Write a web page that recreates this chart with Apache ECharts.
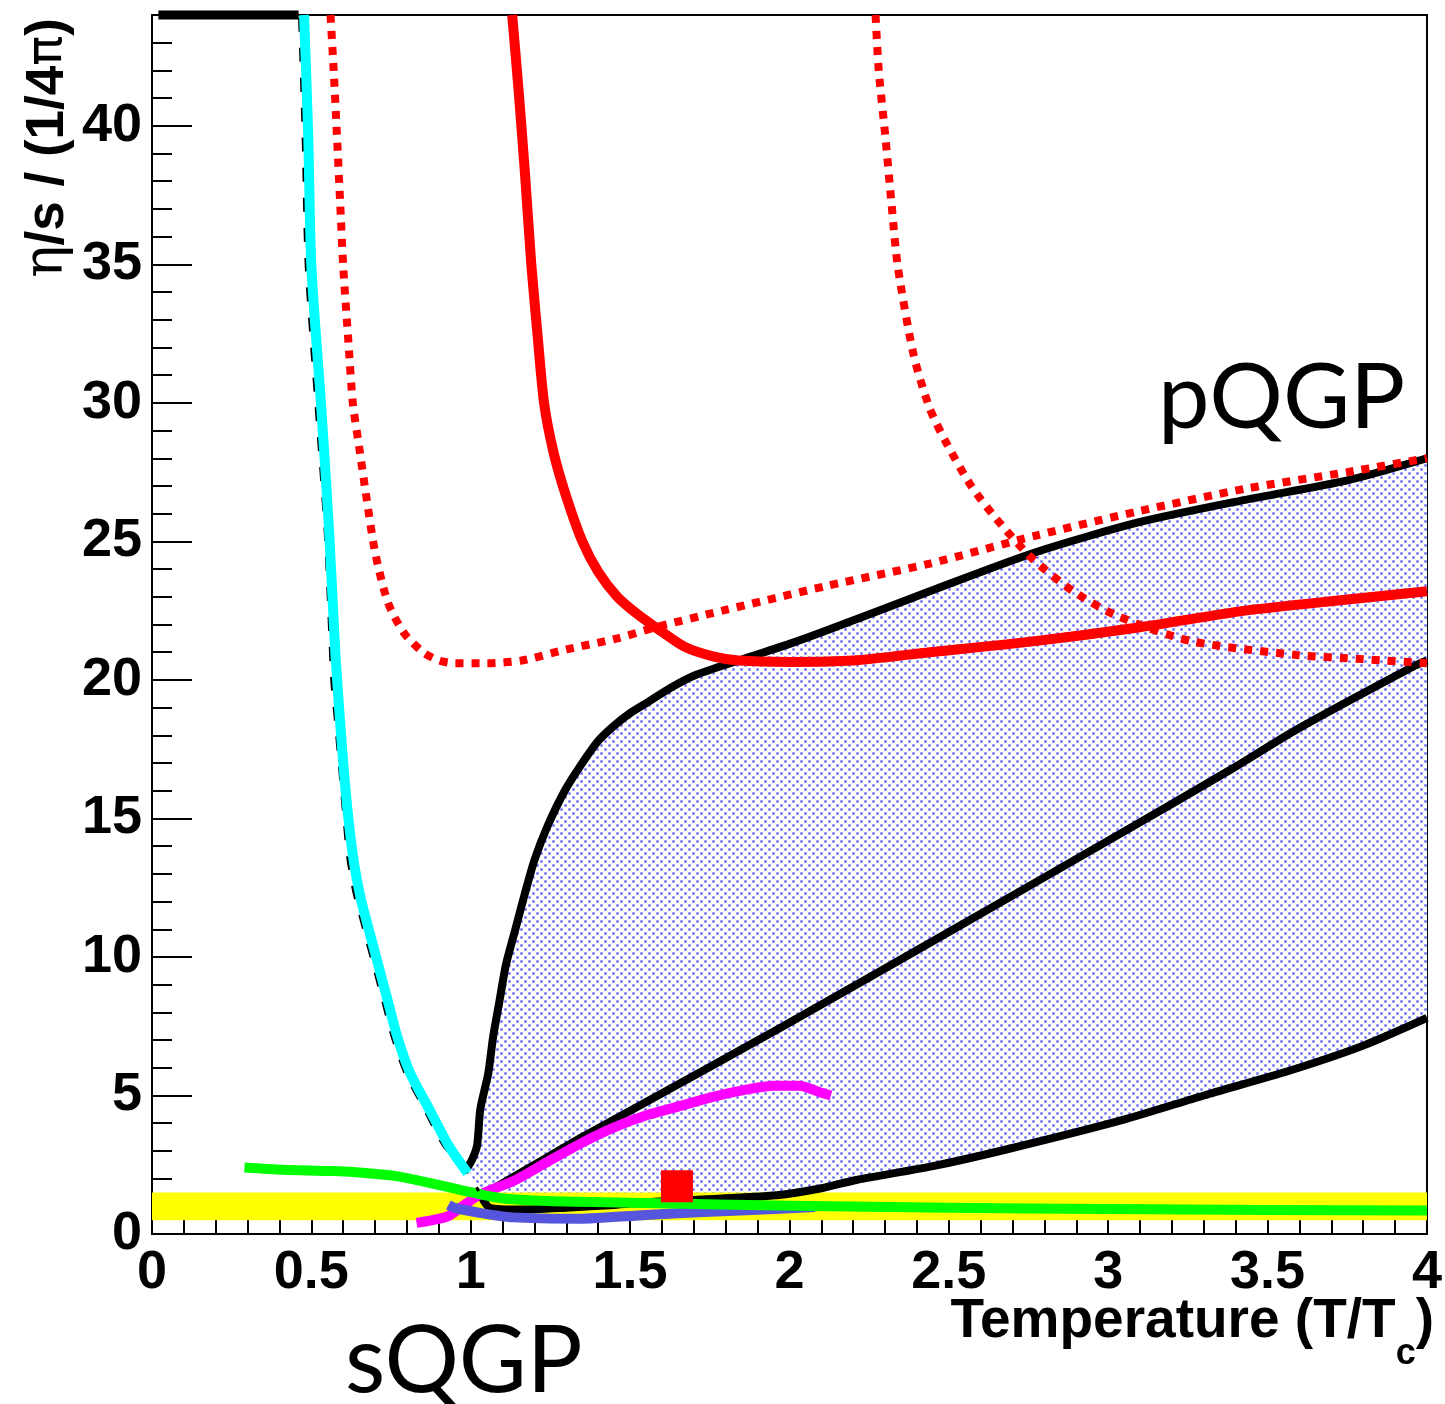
<!DOCTYPE html>
<html>
<head>
<meta charset="utf-8">
<script src="https://cdn.jsdelivr.net/npm/echarts@6/dist/echarts.min.js"></script>
<style>
html,body{margin:0;padding:0;background:#fff;}
#chart{width:1445px;height:1404px;}
</style>
</head>
<body>
<div id="chart"></div>
<script>
// ---------------- data ----------------
const xTicks = [0, 0.5, 1, 1.5, 2, 2.5, 3, 3.5, 4];
const yTicks = [0, 5, 10, 15, 20, 25, 30, 35, 40];

// hadron gas curve (black, runs off the top, then falls beside the cyan curve)
const hadronX = [0.02, 0.46, 0.463, 0.474, 0.484, 0.514, 0.544, 0.564, 0.574, 0.594, 0.604, 0.614, 0.634, 0.664, 0.694, 0.724, 0.754, 0.794, 0.854, 0.914, 0.99, 1.025];
const hadronY = [44, 44, 43.9, 39.7, 34.9, 30.0, 25.2, 20.0, 18.7, 16.1, 14.8, 13.6, 12.3, 11.0, 9.7, 8.4, 7.1, 5.8, 4.5, 3.2, 2.2, 1.55];

// cyan curve
const cyanX = [0.477, 0.49, 0.50, 0.53, 0.555, 0.575, 0.59, 0.605, 0.62, 0.635, 0.655, 0.68, 0.71, 0.74, 0.77, 0.81, 0.87, 0.93, 0.99];
const cyanY = [44, 39.7, 34.9, 30.0, 25.5, 21.0, 18.5, 16.3, 14.6, 13.3, 12.1, 11.0, 9.7, 8.4, 7.1, 5.8, 4.5, 3.2, 2.2];

// upper black boundary of the shaded band
const upperX = [0.99, 1.005, 1.02, 1.03, 1.055, 1.07, 1.09, 1.11, 1.14, 1.17, 1.20, 1.24, 1.295, 1.35, 1.40, 1.45, 1.50, 1.556, 1.625, 1.70, 1.84, 2.0, 2.12, 2.44, 2.77, 3.10, 3.43, 3.75, 4.0];
const upperY = [2.4, 2.7, 3.2, 4.5, 5.8, 7.1, 8.4, 9.7, 11.0, 12.3, 13.5, 14.7, 16.0, 17.0, 17.8, 18.35, 18.8, 19.2, 19.7, 20.15, 20.7, 21.3, 21.8, 23.2, 24.6, 25.7, 26.5, 27.2, 28.0];

// lower black boundary of the shaded band
const lowerX = [1.025, 1.06, 1.15, 1.3, 1.45, 1.56, 1.70, 1.96, 2.1, 2.21, 2.45, 2.68, 3.04, 3.3, 3.57, 3.8, 4.0];
const lowerY = [1.55, 0.95, 0.88, 0.95, 1.05, 1.15, 1.23, 1.4, 1.65, 1.95, 2.45, 3.05, 4.1, 5.0, 5.9, 6.8, 7.8];

// middle black line
const middleX = [1.05, 1.2, 1.35, 1.556, 1.98, 2.5, 3.0, 3.39, 3.59, 3.96, 4.0];
const middleY = [1.5, 2.5, 3.5, 4.8, 7.5, 10.9, 14.2, 16.8, 18.2, 20.5, 20.7];

// red solid curve
const redSolidX = [1.13, 1.15, 1.17, 1.19, 1.21, 1.23, 1.26, 1.30, 1.35, 1.40, 1.46, 1.52, 1.58, 1.67, 1.76, 1.84, 2.0, 2.2, 2.44, 2.77, 3.10, 3.43, 3.75, 4.0];
const redSolidY = [44, 41.3, 38.3, 35.0, 32.4, 30.0, 28.2, 26.6, 25.0, 23.9, 23.0, 22.4, 21.9, 21.2, 20.85, 20.7, 20.65, 20.7, 21.0, 21.4, 21.9, 22.5, 22.9, 23.2];

// red dotted curve (left)
const redDotAX = [0.56, 0.57, 0.58, 0.59, 0.60, 0.615, 0.63, 0.65, 0.67, 0.70, 0.74, 0.79, 0.85, 0.90, 0.95, 1.05, 1.16, 1.3, 1.46, 1.58, 1.79, 2.12, 2.44, 2.77, 3.10, 3.43, 3.75, 4.0];
const redDotAY = [44, 42, 39.7, 37.3, 34.9, 32.4, 30.0, 28.4, 26.8, 24.6, 22.8, 21.7, 21.0, 20.7, 20.6, 20.6, 20.7, 21.1, 21.5, 21.9, 22.5, 23.4, 24.2, 25.2, 26.1, 26.9, 27.5, 28.0];

// red dotted curve (right)
const redDotBX = [2.27, 2.28, 2.30, 2.32, 2.34, 2.39, 2.44, 2.49, 2.57, 2.65, 2.76, 2.89, 3.03, 3.26, 3.59, 3.80, 4.0];
const redDotBY = [44, 42, 39.7, 37.2, 34.9, 31.7, 29.8, 28.6, 27.0, 25.8, 24.4, 23.2, 22.3, 21.4, 20.9, 20.75, 20.6];

// magenta curve
const magentaX = [0.83, 0.88, 0.93, 0.98, 1.03, 1.14, 1.24, 1.35, 1.45, 1.556, 1.65, 1.76, 1.86, 1.95, 2.03, 2.1, 2.13];
const magentaY = [0.4, 0.5, 0.65, 1.05, 1.43, 1.95, 2.6, 3.3, 3.85, 4.3, 4.6, 4.95, 5.2, 5.35, 5.35, 5.1, 5.0];

// slate-blue curve
const blueX = [0.93, 0.95, 1.03, 1.13, 1.34, 1.55, 1.75, 2.08];
const blueY = [1.05, 0.94, 0.76, 0.6, 0.55, 0.69, 0.8, 0.97];

// green curve
const greenX = [0.29, 0.41, 0.57, 0.67, 0.77, 0.88, 0.98, 1.09, 1.24, 1.556, 2.0, 2.5, 3.0, 3.5, 4.0];
const greenY = [2.4, 2.32, 2.27, 2.2, 2.08, 1.82, 1.56, 1.3, 1.19, 1.12, 1.02, 0.95, 0.9, 0.87, 0.85];

// yellow band
const bandX = [0, 4];
const bandLow = 0.5;
const bandHigh = 1.5;

// red square point
const pointX = [1.647];
const pointY = [1.72];

// ---------------- helpers ----------------
function zip(xs, ys) { return xs.map((x, i) => [x, ys[i]]); }

const pat = document.createElement('canvas');
pat.width = 8; pat.height = 8;
(function () {
  const c = pat.getContext('2d');
  c.fillStyle = '#ffffff';
  c.fillRect(0, 0, 8, 8);
  c.fillStyle = '#a8a8ff';
  c.fillRect(0, 0, 3, 3);
  c.fillRect(4, 4, 3, 3);
  c.fillStyle = '#3c3cff';
  c.fillRect(1, 1, 1, 1);
  c.fillRect(5, 5, 1, 1);
})();

const FONT = "'Liberation Sans', Arial, Helvetica, sans-serif";
const axisLabelStyle = { color: '#000', fontFamily: FONT, fontWeight: 'bold', fontSize: 54 };

function lineSeries(name, xs, ys, color, width, z, extra) {
  return Object.assign({
    name: name, type: 'line', data: zip(xs, ys), showSymbol: false, symbol: 'none',
    smooth: 0.25, silent: true, z: z,
    lineStyle: { color: color, width: width, cap: 'butt', join: 'round' }
  }, extra || {});
}

const chart = echarts.init(document.getElementById('chart'), null, { renderer: 'canvas' });

const option = {
  backgroundColor: '#fff',
  animation: false,
  grid: { left: 152, right: 13, top: 15, bottom: 170, show: true, borderColor: '#000', borderWidth: 2, backgroundColor: 'transparent' },
  xAxis: [
    { type: 'value', min: xTicks[0], max: xTicks[xTicks.length - 1], interval: 0.5, position: 'bottom',
      axisLine: { onZero: false, lineStyle: { color: '#000', width: 2 } },
      axisTick: { inside: true, length: 16, lineStyle: { color: '#000', width: 2 } },
      axisLabel: Object.assign({ margin: 12, showMinLabel: true, showMaxLabel: true }, axisLabelStyle),
      splitLine: { show: false } },
    { type: 'value', min: 0, max: 4, interval: 0.1, position: 'bottom',
      axisLine: { show: false }, axisTick: { inside: true, length: 16, lineStyle: { color: '#000', width: 2 } },
      axisLabel: { show: false }, splitLine: { show: false } }
  ],
  yAxis: [
    { type: 'value', min: yTicks[0], max: 44, interval: 5, position: 'left',
      axisLine: { onZero: false, lineStyle: { color: '#000', width: 2 } },
      axisTick: { inside: true, length: 40, lineStyle: { color: '#000', width: 2 } },
      axisLabel: Object.assign({ margin: 10, showMaxLabel: false,
        formatter: v => (yTicks.indexOf(v) >= 0 ? String(v) : '') }, axisLabelStyle),
      splitLine: { show: false } },
    { type: 'value', min: 0, max: 44, interval: 1, position: 'left',
      axisLine: { show: false }, axisTick: { inside: true, length: 20, lineStyle: { color: '#000', width: 2 } },
      axisLabel: { show: false }, splitLine: { show: false } }
  ],
  series: [
    { type: 'custom', name: 'band', silent: true, z: 1, clip: true, data: [[0, 0]],
      renderItem: function (params, api) {
        const pts = [];
        for (let i = 0; i < upperX.length; i++) pts.push(api.coord([upperX[i], upperY[i]]));
        for (let i = lowerX.length - 1; i >= 0; i--) pts.push(api.coord([lowerX[i], lowerY[i]]));
        return { type: 'polygon', shape: { points: pts, smooth: 0 }, style: { fill: { image: pat, repeat: 'repeat' }, stroke: null } };
      } },
    { type: 'custom', name: 'yellow', silent: true, z: 2, clip: true, data: [[0, 0]],
      renderItem: function (params, api) {
        const pts = [api.coord([bandX[0], bandLow]), api.coord([bandX[1], bandLow]),
                     api.coord([bandX[1], bandHigh]), api.coord([bandX[0], bandHigh])];
        return { type: 'polygon', shape: { points: pts }, style: { fill: '#ffff00', stroke: null } };
      } },
    lineSeries('lower', lowerX, lowerY, '#000', 8, 3),
    lineSeries('magenta', magentaX, magentaY, '#ff00ff', 10, 5),
    lineSeries('middle', middleX, middleY, '#000', 8, 4),
    lineSeries('blue', blueX, blueY, '#5555dd', 10, 6),
    lineSeries('green', greenX, greenY, '#00ff00', 10, 7),
    lineSeries('upper', upperX, upperY, '#000', 8, 8),
    lineSeries('hadronTop', hadronX.slice(0, 2), hadronY.slice(0, 2), '#000', 9, 9, { clip: false, smooth: false,
      lineStyle: { color: '#000', width: 9, cap: 'butt' } }),
    lineSeries('hadron', hadronX.slice(2), hadronY.slice(2), '#000', 3, 9, {
      lineStyle: { color: '#000', width: 3, type: [14, 16], cap: 'butt', join: 'round' } }),
    lineSeries('cyan', cyanX, cyanY, '#00ffff', 10, 10),
    lineSeries('redSolid', redSolidX, redSolidY, '#ff0000', 10, 11),
    lineSeries('redDotA', redDotAX, redDotAY, '#ff0000', 8, 12, {
      lineStyle: { color: '#ff0000', width: 8, type: [8, 8], cap: 'butt' } }),
    lineSeries('redDotB', redDotBX, redDotBY, '#ff0000', 8, 12, {
      lineStyle: { color: '#ff0000', width: 8, type: [8, 8], cap: 'butt' } }),
    { type: 'scatter', name: 'point', data: zip(pointX, pointY), symbol: 'rect', symbolSize: 32,
      itemStyle: { color: '#ff0000', opacity: 1 }, silent: true, z: 13 }
  ],
  graphic: [
    { type: 'text', x: 48, y: 18, rotation: Math.PI / 2, z: 20, silent: true,
      style: { text: '{g|η}{b|/s / (1/4}{p|π}{b|)}', textAlign: 'right', textVerticalAlign: 'middle', fill: '#000',
        rich: { g: { fontFamily: "'DejaVu Serif', serif", fontSize: 54, fill: '#000' },
                p: { fontFamily: "'DejaVu Sans', sans-serif", fontSize: 50, fill: '#000' },
                b: { fontFamily: FONT, fontWeight: 'bold', fontSize: 53, fill: '#000' } } } },
    { type: 'text', x: 1434, y: 1322, z: 20, silent: true,
      style: { text: '{a|Temperature (T/T}{s|c}{a|)}', textAlign: 'right', textVerticalAlign: 'middle', fill: '#000',
        rich: { a: { fontFamily: FONT, fontWeight: 'bold', fontSize: 55, lineHeight: 100, fill: '#000' },
                s: { fontFamily: FONT, fontWeight: 'bold', fontSize: 36, lineHeight: 28, verticalAlign: 'bottom', fill: '#000' } } } },
    { type: 'text', x: 1158, y: 398, z: 20, silent: true,
      style: { text: 'pQGP', textAlign: 'left', textVerticalAlign: 'middle', fill: '#000',
        fontFamily: "Lato, 'Open Sans', sans-serif", fontSize: 92 } },
    { type: 'text', x: 345, y: 1362, z: 20, silent: true,
      style: { text: 'sQGP', textAlign: 'left', textVerticalAlign: 'middle', fill: '#000',
        fontFamily: "Lato, 'Open Sans', sans-serif", fontSize: 93 } }
  ]
};
chart.setOption(option);
</script>
</body>
</html>
